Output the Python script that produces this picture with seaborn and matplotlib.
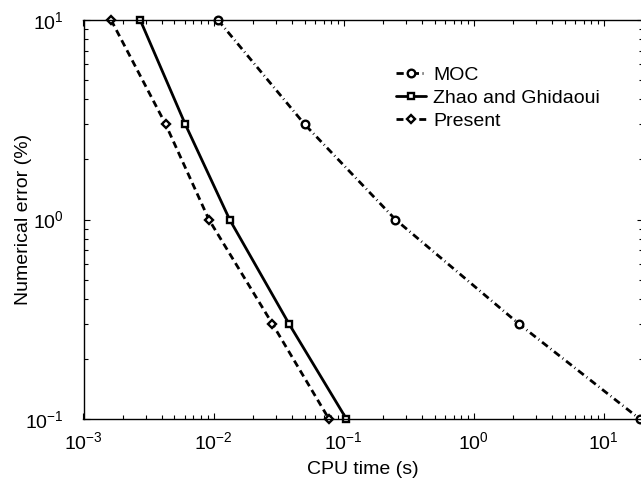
import numpy as np
import pandas as pd
import matplotlib
matplotlib.use("Agg")
import matplotlib.pyplot as plt
import matplotlib.ticker as mticker
import seaborn as sns

# Numerical error levels (%) shared by all three schemes
error_levels = [10, 3, 1, 0.3, 0.1]

# CPU time (s) needed by each scheme to reach those error levels
cpu_moc = [0.0108, 0.0501, 0.250, 2.22, 18.9]
cpu_zhao = [0.00273, 0.00606, 0.01328, 0.0380, 0.105]
cpu_present = [0.00163, 0.00428, 0.0092, 0.0283, 0.0771]

series_names = ["MOC", "Zhao and Ghidaoui", "Present"]

sns.set_theme(style="white")
plt.rcParams["font.family"] = ["Liberation Sans", "DejaVu Sans"]
plt.rcParams["mathtext.fontset"] = "custom"
plt.rcParams["mathtext.rm"] = "Liberation Sans"
plt.rcParams["mathtext.it"] = "Liberation Sans:italic"
plt.rcParams["mathtext.default"] = "regular"
plt.rcParams["text.color"] = "black"

df = pd.DataFrame({
    "cpu": cpu_moc + cpu_zhao + cpu_present,
    "err": error_levels * 3,
    "scheme": np.repeat(series_names, len(error_levels)),
})

fig = plt.figure(figsize=(6.41, 4.92), dpi=100)
ax_w_px = 643 - 83.5
ax = fig.add_axes([83.5 / 641, 1 - 419 / 492, ax_w_px / 641, (419 - 20) / 492])

styles = {
    "MOC": dict(marker="o", linestyle=(0, (2.6, 1.3, 0.3, 1.3))),
    "Zhao and Ghidaoui": dict(marker="s", linestyle="-"),
    "Present": dict(marker="D", linestyle=(0, (2.5, 1.6))),
}
marker_sizes = {"MOC": 5.5, "Zhao and Ghidaoui": 5.0, "Present": 4.3}

for name in series_names:
    sub = df[df["scheme"] == name]
    sns.lineplot(data=sub, x="cpu", y="err", ax=ax, color="black", lw=2.0,
                 markersize=marker_sizes[name], markerfacecolor="white",
                 markeredgecolor="black", markeredgewidth=1.7,
                 label=name, clip_on=False, sort=False, estimator=None,
                 **styles[name])

ax.set_xscale("log")
ax.set_yscale("log")
ax.set_xlim(1e-3, 20)
ax.set_ylim(0.1, 10)

def sci_fmt(v, pos):
    e = int(round(np.log10(v)))
    return r"$\mathregular{10^{%d}}$" % e

ax.xaxis.set_major_locator(mticker.LogLocator(base=10, numticks=10))
ax.yaxis.set_major_locator(mticker.LogLocator(base=10, numticks=10))
ax.xaxis.set_major_formatter(mticker.FuncFormatter(sci_fmt))
ax.yaxis.set_major_formatter(mticker.FuncFormatter(sci_fmt))
ax.xaxis.set_minor_locator(mticker.LogLocator(base=10, subs=np.arange(2, 10), numticks=20))
ax.yaxis.set_minor_locator(mticker.LogLocator(base=10, subs=np.arange(2, 10), numticks=20))
ax.xaxis.set_minor_formatter(mticker.NullFormatter())
ax.yaxis.set_minor_formatter(mticker.NullFormatter())

ax.tick_params(which="both", direction="in", top=True, right=True,
               bottom=True, left=True, color="black", width=0.8,
               labelsize=14, labelcolor="black")
ax.tick_params(which="major", length=4.5)
ax.tick_params(which="minor", length=3)
ax.tick_params(axis="x", pad=9)
ax.tick_params(axis="y", pad=14)

for sp in ax.spines.values():
    sp.set_color("black")
    sp.set_linewidth(1.0)

ax.set_xlabel("CPU time (s)", fontsize=14, color="black")
ax.set_ylabel("Numerical error (%)", fontsize=14, color="black")
ax.xaxis.set_label_coords(0.5, -(470 - 419) / 399, transform=ax.transAxes)
ax.yaxis.set_label_coords(-(83.5 - 24) / ax_w_px, 0.5, transform=ax.transAxes)
ax.xaxis.label.set_verticalalignment("center")
ax.yaxis.label.set_verticalalignment("center")

handles, labels = ax.get_legend_handles_labels()
leg = ax.legend(handles, labels, loc="upper left",
                bbox_to_anchor=(396 / 641, 1 - 66 / 492),
                bbox_transform=fig.transFigure, frameon=False, fontsize=14,
                handlelength=1.55, handletextpad=0.35, labelspacing=0.28,
                borderpad=0, borderaxespad=0, numpoints=1)
for t in leg.get_texts():
    t.set_color("black")

fig.savefig("out.png", dpi=100)
